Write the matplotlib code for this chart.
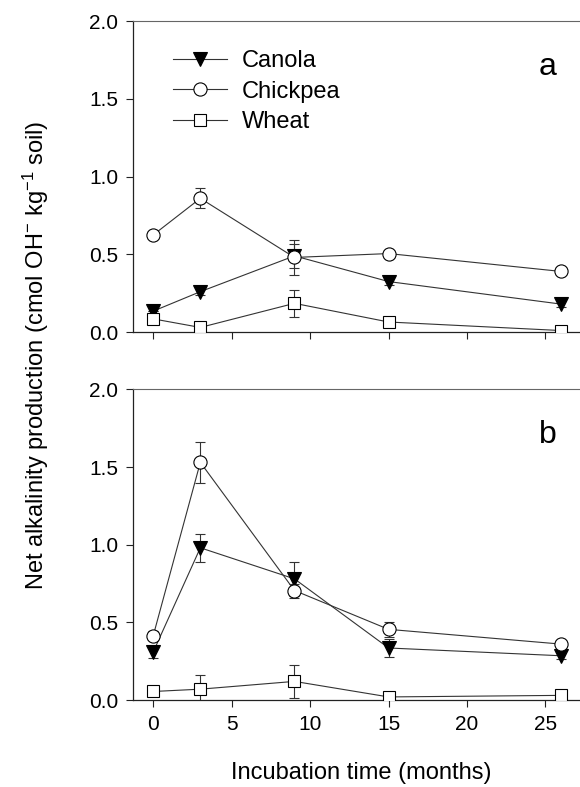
import matplotlib
matplotlib.use("Agg")
import matplotlib.pyplot as plt
import numpy as np

plt.rcParams['font.family'] = ['Liberation Sans', 'DejaVu Sans']
plt.rcParams['mathtext.fontset'] = 'custom'
plt.rcParams['mathtext.rm'] = 'Liberation Sans'
plt.rcParams['mathtext.it'] = 'Liberation Sans'

months = [0, 3, 9, 15, 26]

# panel a
canola_a = [0.135, 0.26, 0.49, 0.325, 0.18]
canola_a_err = [0.0, 0.02, 0.075, 0.02, 0.02]
chickpea_a = [0.625, 0.86, 0.48, 0.505, 0.39]
chickpea_a_err = [0.0, 0.065, 0.11, 0.0, 0.0]
wheat_a = [0.085, 0.03, 0.185, 0.065, 0.01]
wheat_a_err = [0.0, 0.0, 0.087, 0.0, 0.0]

# panel b
canola_b = [0.31, 0.98, 0.78, 0.335, 0.285]
canola_b_err = [0.04, 0.09, 0.11, 0.06, 0.02]
chickpea_b = [0.415, 1.53, 0.705, 0.455, 0.36]
chickpea_b_err = [0.03, 0.13, 0.045, 0.05, 0.02]
wheat_b = [0.055, 0.07, 0.12, 0.02, 0.03]
wheat_b_err = [0.0, 0.09, 0.105, 0.0, 0.0]

yticks = [0.0, 0.5, 1.0, 1.5, 2.0]
xticks = [0, 5, 10, 15, 20, 25]

lc = '#333333'

fig = plt.figure(figsize=(5.8, 7.87), dpi=100)
ax_a = fig.add_axes([0.2299, 0.578, 0.7701, 0.3953])
ax_b = fig.add_axes([0.2299, 0.1105, 0.7701, 0.3948])


def draw(ax, data, letter, show_legend):
    styles = [('Canola', 'v', 'black', 9.5),
              ('Chickpea', 'o', 'white', 9.5),
              ('Wheat', 's', 'white', 8.8)]
    for (name, mk, fc, ms), (y, e) in zip(styles, data):
        ax.errorbar(months, y, yerr=e, fmt='none', ecolor=lc, elinewidth=0.8,
                    capsize=3.3, capthick=0.8, zorder=2)
        ax.plot(months, y, color=lc, lw=0.8, marker=mk, markersize=ms,
                markerfacecolor=fc, markeredgecolor='black', markeredgewidth=0.8,
                label=name, zorder=3)
    ax.set_xlim(-1.27, 27.2)
    ax.set_ylim(0, 2.0)
    ax.set_yticks(yticks)
    ax.set_yticklabels(['%.1f' % v for v in yticks])
    ax.set_xticks(xticks)
    ax.spines['right'].set_visible(False)
    ax.spines['top'].set_color('#666666')
    for s in ['left', 'bottom']:
        ax.spines[s].set_color('#222222')
        ax.spines[s].set_linewidth(0.9)
    ax.tick_params(direction='out', length=5, width=0.8, colors='#222222',
                   labelsize=15, labelcolor='black', pad=6)
    ax.text(0.908, 0.828, letter, transform=ax.transAxes, fontsize=23,
            ha='left', va='baseline')
    if show_legend:
        ax.legend(loc='upper left', bbox_to_anchor=(0.088, 0.906), frameon=False,
                  fontsize=17, handlelength=2.29, handletextpad=0.65,
                  labelspacing=0.36, borderaxespad=0, borderpad=0)


draw(ax_a, [(canola_a, canola_a_err), (chickpea_a, chickpea_a_err),
            (wheat_a, wheat_a_err)], 'a', True)
ax_a.tick_params(labelbottom=False)
draw(ax_b, [(canola_b, canola_b_err), (chickpea_b, chickpea_b_err),
            (wheat_b, wheat_b_err)], 'b', False)

fig.text(0.622, 0.018, 'Incubation time (months)', fontsize=17,
         ha='center', va='center')
fig.text(0.062, 0.549,
         'Net alkalinity production (cmol OH$^{-}$ kg$^{-1}$ soil)',
         fontsize=17, rotation=90, ha='center', va='center')

fig.savefig('out.png', dpi=100)
